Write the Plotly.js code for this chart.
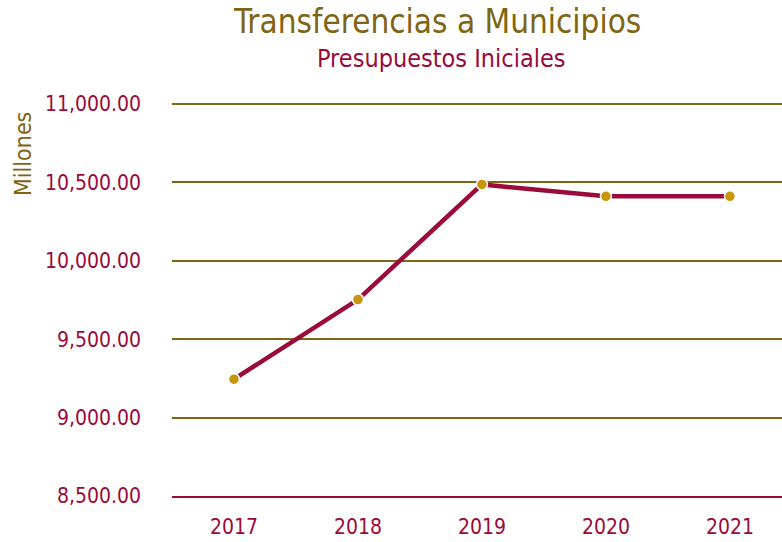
<!DOCTYPE html>
<html>
<head>
<meta charset="utf-8">
<script src="https://cdn.plot.ly/plotly-3.0.1.min.js"></script>
<style>html,body{margin:0;padding:0;background:#fff;}#chart{width:782px;height:542px;}</style>
</head>
<body>
<div id="chart"></div>
<script>
const years = ["2017", "2018", "2019", "2020", "2021"];
const values = [9245, 9753, 10487, 10411, 10411];
const yTicks = [8500, 9000, 9500, 10000, 10500, 11000];
const yTickLabels = ["8,500.00", "9,000.00", "9,500.00", "10,000.00", "10,500.00", "11,000.00"];

const FONT = '"DejaVu Sans Condensed", "DejaVu Sans", sans-serif';
const MAROON = '#9B0A3A';
const OLIVE = '#7F6411';
const GOLD = '#C8960A';

const trace = {
  x: years.map((_, i) => i),
  y: values,
  type: 'scatter',
  mode: 'lines+markers',
  line: {color: MAROON, width: 4.5},
  marker: {color: GOLD, size: 11, line: {color: '#ffffff', width: 1.5}},
  hoverinfo: 'skip',
  cliponaxis: false
};

const T = 100, B = 46;
const layout = {
  width: 782, height: 542,
  margin: {l: 172, r: 0, t: T, b: B},
  paper_bgcolor: '#ffffff', plot_bgcolor: '#ffffff',
  showlegend: false,
  font: {family: FONT},
  xaxis: {
    range: [-0.5, 4.42],
    tickvals: years.map((_, i) => i),
    ticktext: years,
    tickfont: {color: MAROON, size: 21, family: FONT},
    showgrid: false, zeroline: false,
    showline: true, linecolor: MAROON, linewidth: 2,
    ticks: '', ticklabelstandoff: 11
  },
  yaxis: {
    range: [8500, 11000 + 4 * 500 / 78.4],
    tickvals: yTicks,
    ticktext: yTickLabels,
    tickfont: {color: MAROON, size: 21, family: FONT},
    showgrid: true, gridcolor: OLIVE, gridwidth: 2,
    zeroline: false, showline: false,
    ticks: '', ticklabelstandoff: 30
  },
  annotations: [
    {text: 'Transferencias a Municipios', showarrow: false, font: {family: FONT, size: 33, color: OLIVE}},
    {text: 'Presupuestos Iniciales', showarrow: false, font: {family: FONT, size: 25, color: MAROON}},
    {text: 'Millones', showarrow: false, textangle: -90, font: {family: FONT, size: 23, color: OLIVE}}
  ]
};

function px(xp, yp) {
  const pw = 782 - 172, ph = 542 - T - B;
  return {x: (xp - 172) / pw, y: (542 - B - yp) / ph};
}
const pos = [[437, 22], [441, 58], [23, 154]];
pos.forEach((q, i) => {
  const p = px(q[0], q[1]);
  Object.assign(layout.annotations[i], {xref: 'paper', yref: 'paper', x: p.x, y: p.y, xanchor: 'center', yanchor: 'middle'});
});

Plotly.newPlot('chart', [trace], layout, {displayModeBar: false, staticPlot: true});
</script>
</body>
</html>
